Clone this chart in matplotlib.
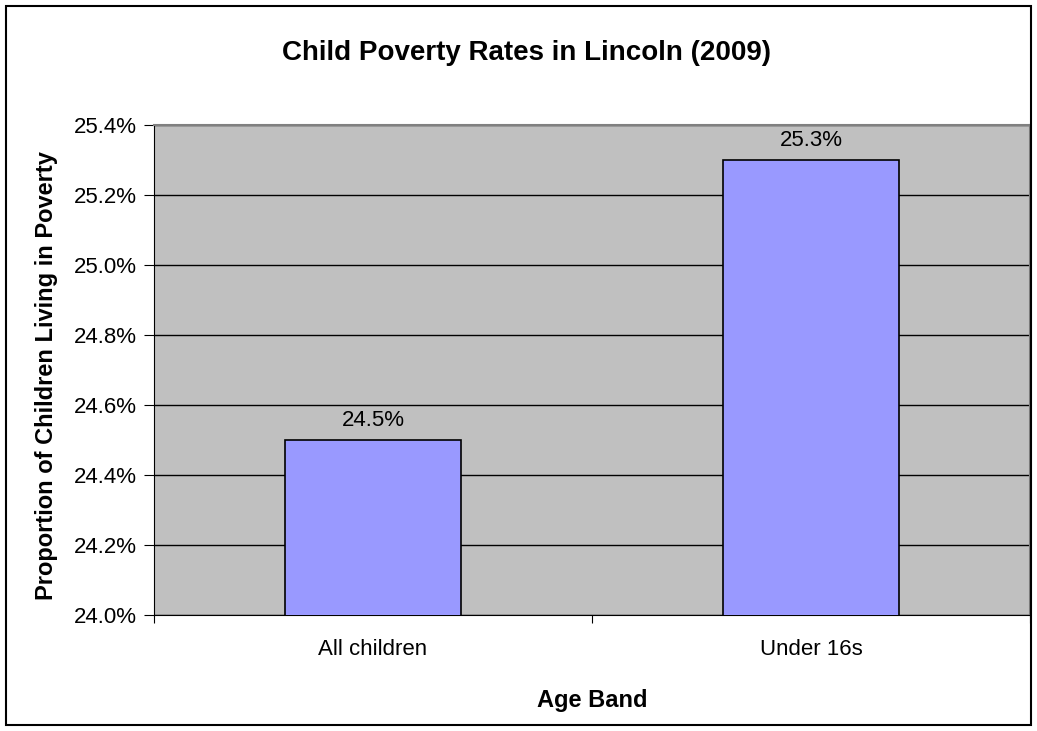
import matplotlib
matplotlib.use("Agg")
import matplotlib.pyplot as plt
from matplotlib.patches import Rectangle

# data
categories = ["All children", "Under 16s"]
rates = [24.5, 25.3]
y_ticks = [24.0, 24.2, 24.4, 24.6, 24.8, 25.0, 25.2, 25.4]

plt.rcParams["font.family"] = ["Liberation Sans", "DejaVu Sans"]

W, H = 1037, 731
fig = plt.figure(figsize=(W / 100, H / 100), dpi=100)
ax = fig.add_axes([154 / W, 1 - 615 / H, 876 / W, 490 / H])

# outer chart border
fig.patches.append(Rectangle((6 / W, 6 / H), 1 - 12 / W, 1 - 12 / H, transform=fig.transFigure,
                             fill=False, edgecolor="black", linewidth=1.5))

ax.set_facecolor("#c0c0c0")
x = list(range(len(categories)))
ax.bar(x, rates, width=0.4, color="#9999ff", edgecolor="black", linewidth=1.2, zorder=3)

for xi, v in zip(x, rates):
    ax.text(xi, v + 0.025, f"{v:.1f}%", ha="center", va="bottom", fontsize=16)

ax.set_xlim(-0.5, 1.5)
ax.set_ylim(24.0, 25.4)
ax.set_yticks(y_ticks)
ax.set_yticklabels([f"{t:.1f}%" for t in y_ticks], fontsize=16)
ax.yaxis.grid(True, color="black", linewidth=1, zorder=0)
ax.set_axisbelow(True)

# category labels centred, ticks on the category boundaries
ax.set_xticks([-0.5, 0.5, 1.5])
ax.set_xticklabels([])
ax.set_xticks(x, minor=True)
ax.set_xticklabels(categories, minor=True, fontsize=16)
ax.tick_params(axis="x", which="minor", length=0, pad=17)
ax.tick_params(axis="x", which="major", length=6, direction="out")
ax.tick_params(axis="y", length=7, direction="out", pad=5)

for side in ["top", "right"]:
    ax.spines[side].set_color("#808080")
    ax.spines[side].set_linewidth(1.5)
ax.spines["left"].set_color("black")
ax.spines["bottom"].set_color("black")

fig.text(592 / W, 1 - 700 / H, "Age Band", fontsize=17, fontweight="bold",
         ha="center", va="center")
fig.text(47 / W, 1 - 376 / H, "Proportion of Children Living in Poverty", fontsize=17,
         fontweight="bold", rotation=90, ha="center", va="center")
fig.text(527 / W, 1 - 53 / H, "Child Poverty Rates in Lincoln (2009)", fontsize=20,
         fontweight="bold", ha="center", va="center")

fig.savefig("out.png", dpi=100)
